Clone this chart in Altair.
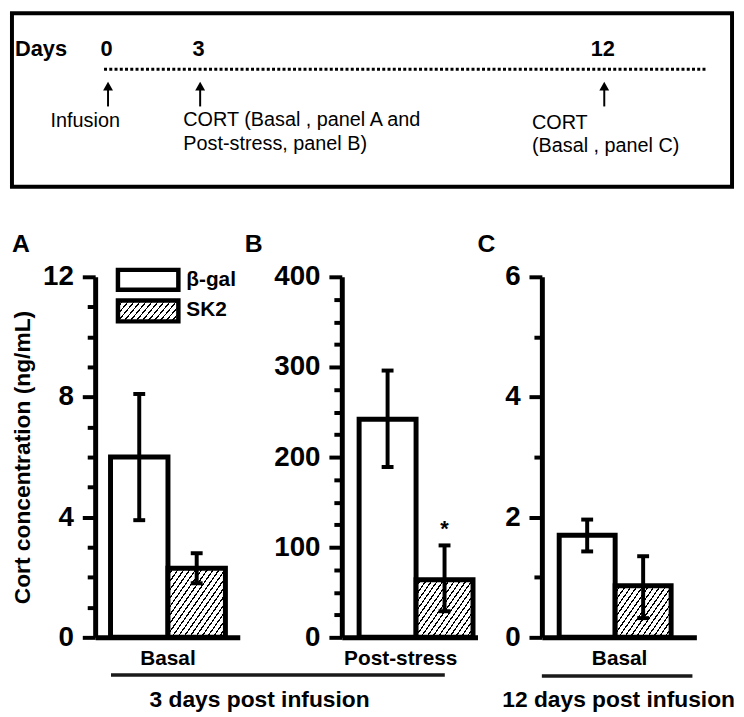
import math
import altair as alt
import pandas as pd

FONT = "Liberation Sans"

# ---------------- data ----------------
GROUPS = ["β-gal", "SK2"]
SIG_B = ["", "*"]
NO_SIG = ["", ""]

A_MEAN = [6.0, 2.3]
A_LO = [3.9, 1.8]
A_HI = [8.1, 2.8]

B_MEAN = [242, 64]
B_LO = [189, 29]
B_HI = [296, 102]

C_MEAN = [1.7, 0.86]
C_LO = [1.43, 0.32]
C_HI = [1.96, 1.35]

A_TICKS = list(range(0, 13))
B_TICKS = list(range(0, 401, 25))
C_TICKS = list(range(0, 7))

EVENT_DAYS = [0, 3, 12]
EVENT_DAY_LABELS = ["0", "3", "12"]
TIMELINE_SPAN = [-0.13, 14.3]
EVENT_TEXT = [
    "Infusion",
    "CORT (Basal , panel A and\nPost-stress, panel  B)",
    "CORT\n(Basal , panel C)",
]
PANEL_LETTERS = ["A", "B", "C"]
CONDITIONS = ["Basal", "Post-stress", "Basal"]
PERIODS = ["3 days post infusion", "12 days post infusion"]
Y_TITLE = "Cort concentration (ng/mL)"

# ---------------- layout ----------------
PH = 364
TOP_W, TOP_H = 727, 175


def hatch(w, h, theta=55.0, spacing=4.8, frac=0.25):
    t = math.radians(theta)
    s, c = math.sin(t), math.cos(t)
    D = w * s + h * c
    den = (w * s) ** 2 + (h * c) ** 2
    k = D / den
    n = max(1, int(round(D / spacing)))
    stops = []
    for i in range(n):
        a = i / n
        b = (i + 1 - frac) / n
        e = (i + 1) / n
        stops += [
            {"offset": a, "color": "white"},
            {"offset": b, "color": "white"},
            {"offset": b, "color": "black"},
            {"offset": e, "color": "black"},
        ]
    return {"gradient": "linear", "x1": 0, "y1": 0, "x2": k * w * s, "y2": k * h * c, "stops": stops}


def y_axis(ticks, major, title):
    kw = dict(
        values=ticks,
        labelExpr=f"datum.value % {major} === 0 ? datum.label : ''",
        tickSize={"condition": {"test": f"datum.value % {major} === 0", "value": 13}, "value": 8},
        tickWidth=4,
        tickColor="black",
        domainWidth=5,
        domainColor="black",
        labelFont=FONT,
        labelFontSize=28,
        labelFontWeight="bold",
        labelColor="black",
        labelPadding=9,
        labelOverlap=False,
        labelFlush=False,
        grid=False,
        title=title,
    )
    if title:
        kw.update(titleFont=FONT, titleFontSize=23, titleFontWeight="bold",
                  titleColor="black", titlePadding=8)
    return alt.Axis(**kw)


def x_axis(cond, title_x=None):
    kw = dict(labels=False, ticks=False, domainWidth=5, domainColor="black",
              title=cond, titleFont=FONT, titleFontSize=21, titleFontWeight="bold",
              titleColor="black", titlePadding=10)
    if title_x is not None:
        kw["titleX"] = title_x
    return alt.Axis(**kw)


def panel(mean, lo, hi, sig, ymax, ticks, major, width, pad_outer, align,
          letter, letter_x, cond, title_x=None, y_title=None, extra=()):
    df = pd.DataFrame({"group": GROUPS, "mean": mean, "lo": lo, "hi": hi, "sig": sig})
    base = alt.Chart(df)
    xs = alt.Scale(domain=GROUPS, paddingInner=0, paddingOuter=pad_outer, align=align)
    xa = x_axis(cond, title_x)
    ys = alt.Scale(domain=[0, ymax], nice=False, zero=True)
    ya = y_axis(ticks, major, y_title)

    def X():
        return alt.X("group:N", scale=xs, axis=xa, sort=GROUPS)

    def Y(f):
        return alt.Y(f"{f}:Q", scale=ys, axis=ya)

    step = width / (2 + 2 * pad_outer)
    bar_h = mean[1] * PH / ymax

    bars1 = base.transform_filter(alt.datum.group == GROUPS[0]).mark_bar(
        fill="white", stroke="black", strokeWidth=5).encode(x=X(), y=Y("mean"))
    bars2 = base.transform_filter(alt.datum.group == GROUPS[1]).mark_bar(
        fill=hatch(step, bar_h), stroke="black", strokeWidth=5).encode(x=X(), y=Y("mean"))
    err = base.mark_rule(color="black", strokeWidth=4).encode(x=X(), y=Y("lo"), y2="hi:Q")
    cap_lo = base.mark_tick(color="black", thickness=4, size=12, opacity=1).encode(x=X(), y=Y("lo"))
    cap_hi = base.mark_tick(color="black", thickness=4, size=12, opacity=1).encode(x=X(), y=Y("hi"))
    star = base.mark_text(font=FONT, fontSize=22, fontWeight="bold", baseline="alphabetic",
                          dy=-9, color="black").encode(x=X(), y=Y("hi"), text="sig:N")
    let = alt.Chart(pd.DataFrame({"t": [letter]})).mark_text(
        font=FONT, fontSize=25, fontWeight="bold", align="left", baseline="alphabetic",
        color="black").encode(x=alt.value(letter_x), y=alt.value(-25), text="t:N")
    layers = [bars1, bars2, err, cap_lo, cap_hi, star, let] + list(extra)
    return alt.layer(*layers).properties(width=width, height=PH)


# legend for panel A (drawn as boxes + labels)
leg_df = pd.DataFrame({"t": [GROUPS[0]]})
leg1 = alt.Chart(leg_df).mark_rect(fill="white", stroke="black", strokeWidth=4.5).encode(
    x=alt.value(23), x2=alt.value(84), y=alt.value(-7), y2=alt.value(13))
leg2 = alt.Chart(leg_df).mark_rect(fill=hatch(61, 21, theta=50), stroke="black", strokeWidth=4.5).encode(
    x=alt.value(23), x2=alt.value(84), y=alt.value(24), y2=alt.value(45))
legt1 = alt.Chart(pd.DataFrame({"t": [GROUPS[0]]})).mark_text(
    font=FONT, fontSize=21, fontWeight="bold", align="left", baseline="middle", color="black").encode(
    x=alt.value(92), y=alt.value(3), text="t:N")
legt2 = alt.Chart(pd.DataFrame({"t": [GROUPS[1]]})).mark_text(
    font=FONT, fontSize=21, fontWeight="bold", align="left", baseline="middle", color="black").encode(
    x=alt.value(92), y=alt.value(34), text="t:N")

# group annotations under panels
ulineA = alt.Chart(pd.DataFrame({"t": [PERIODS[0]]})).mark_rule(color="#1a1a1a", strokeWidth=3.5).encode(
    x=alt.value(16), x2=alt.value(353), y=alt.value(402))
periodA = alt.Chart(pd.DataFrame({"t": [PERIODS[0]]})).mark_text(
    font=FONT, fontSize=23, fontWeight="bold", baseline="alphabetic", color="black").encode(
    x=alt.value(166), y=alt.value(434), text="t:N")
ulineC = alt.Chart(pd.DataFrame({"t": [PERIODS[1]]})).mark_rule(color="#1a1a1a", strokeWidth=3.5).encode(
    x=alt.value(0), x2=alt.value(152), y=alt.value(403))
periodC = alt.Chart(pd.DataFrame({"t": [PERIODS[1]]})).mark_text(
    font=FONT, fontSize=23, fontWeight="bold", baseline="alphabetic", color="black").encode(
    x=alt.value(77.5), y=alt.value(434), text="t:N")

pA = panel(A_MEAN, A_LO, A_HI, NO_SIG, 12, A_TICKS, 4, 146, 0.2586, 0.517,
           PANEL_LETTERS[0], -84, CONDITIONS[0], y_title=Y_TITLE,
           extra=[leg1, leg2, legt1, legt2, ulineA, periodA])
pB = panel(B_MEAN, B_LO, B_HI, SIG_B, 400, B_TICKS, 100, 137, 0.1913, 0.795,
           PANEL_LETTERS[1], -98, CONDITIONS[1], title_x=59)
pC = panel(C_MEAN, C_LO, C_HI, NO_SIG, 6, C_TICKS, 2, 156, 0.3805, 0.407,
           PANEL_LETTERS[2], -65, CONDITIONS[2], extra=[ulineC, periodC])


def spacer(w):
    return alt.Chart(pd.DataFrame({"t": [""]})).mark_text().encode(text="t:N").properties(width=w, height=PH)


row = alt.hconcat(spacer(79), pA, spacer(93), pB, spacer(55), pC, spacing=5, bounds="flush")

# ---------------- timeline box ----------------
ev = pd.DataFrame({"day": EVENT_DAYS, "label": EVENT_DAY_LABELS})
dscale = alt.Scale(domain=EVENT_DAYS, range=[97, 190, 598])


def XD(f="day"):
    return alt.X(f"{f}:Q", scale=dscale, axis=None)


tl = alt.Chart(pd.DataFrame({"s": [TIMELINE_SPAN[0]], "e": [TIMELINE_SPAN[1]]})).mark_rule(
    color="black", strokeWidth=3, strokeDash=[3, 2.3]).encode(x=XD("s"), x2="e:Q", y=alt.value(56.5))
shafts = alt.Chart(ev).mark_rule(color="black", strokeWidth=2).encode(
    x=XD(), y=alt.value(76), y2=alt.value(94))
heads = alt.Chart(ev).mark_point(shape="M0,-0.75L-0.83,0.75L0.83,0.75Z", filled=True, size=144,
                                 color="black", opacity=1, strokeWidth=0).encode(x=XD(), y=alt.value(73.5))
nums = alt.Chart(ev).mark_text(font=FONT, fontSize=22, fontWeight="bold", baseline="alphabetic",
                               dx=-1.5, color="black").encode(x=XD(), y=alt.value(43), text="label:N")
days = alt.Chart(pd.DataFrame({"t": ["Days"]})).mark_text(
    font=FONT, fontSize=22, fontWeight="bold", align="left", baseline="alphabetic", color="black").encode(
    x=alt.value(3), y=alt.value(43), text="t:N")

ev_layers = []
for d, txt, dx, yb, lh in zip(EVENT_DAYS, EVENT_TEXT, [-58, -17, -73], [115, 114, 117], [24, 24, 23]):
    ev_layers.append(
        alt.Chart(pd.DataFrame({"day": [d], "t": [txt]})).mark_text(
            font=FONT, fontSize=20, align="left", baseline="alphabetic", lineBreak="\n",
            lineHeight=lh, dx=dx, color="black").encode(x=XD(), y=alt.value(yb), text="t:N"))

top = alt.layer(tl, shafts, heads, nums, days, *ev_layers).properties(
    width=TOP_W, height=TOP_H,
    view=alt.ViewBackground(stroke="black", strokeWidth=4, fill="white"))

chart = alt.vconcat(top, row, spacing=91, bounds="flush",
                    padding={"left": 2, "top": 0, "right": 0, "bottom": 0}).configure(
    font=FONT).configure_view(stroke=None)

chart.save("out.html", embed_options={"renderer": "svg", "actions": False})
